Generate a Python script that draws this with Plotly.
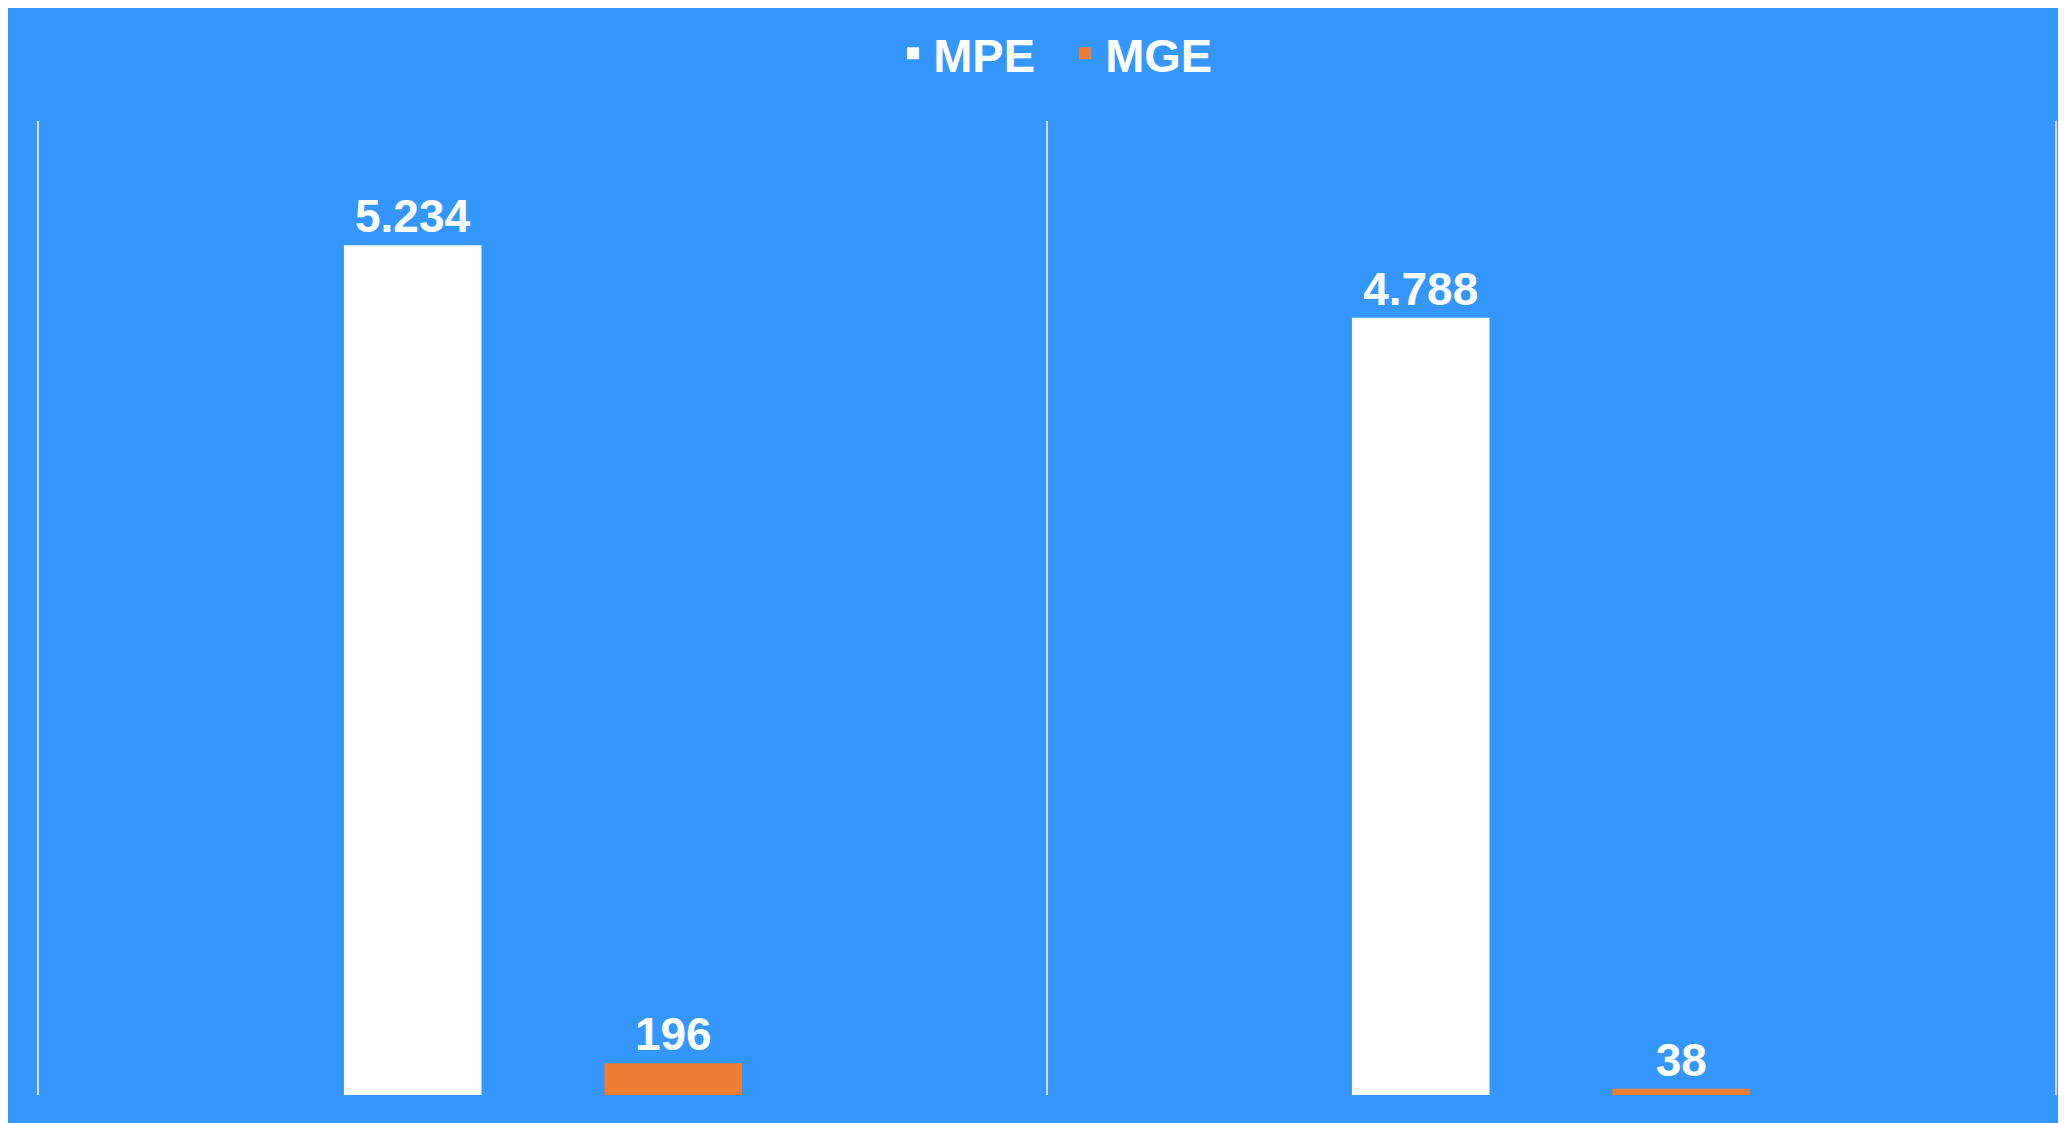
import plotly.graph_objects as go

# two groups, labels are not shown on the axis in the original
categories = ["A", "B"]
mpe_values = [5234, 4788]
mge_values = [196, 38]

BG = "#3397FF"
GRID = "#D9D9D9"
FONT = "Arial, Liberation Sans, sans-serif"

fig = go.Figure()
fig.add_trace(go.Bar(
    name="MPE",
    x=categories,
    y=mpe_values,
    marker=dict(color="#FFFFFF", line=dict(width=0)),
    texttemplate="%{y:,}",
    textposition="outside",
    textfont=dict(family=FONT, size=46, color="white", weight="bold"),
    cliponaxis=False,
))
fig.add_trace(go.Bar(
    name="MGE",
    x=categories,
    y=mge_values,
    marker=dict(color="#ED7D31", line=dict(width=0)),
    texttemplate="%{y:,}",
    textposition="outside",
    textfont=dict(family=FONT, size=46, color="white", weight="bold"),
    cliponaxis=False,
))

fig.update_layout(
    width=2050,
    height=1123,
    separators=",.",
    paper_bgcolor=BG,
    plot_bgcolor=BG,
    barmode="group",
    bargap=0.483,
    bargroupgap=0.472,
    margin=dict(l=31, r=1, t=113, b=36),
    showlegend=True,
    legend=dict(
        orientation="h",
        x=0.509, xanchor="center",
        y=1.069, yanchor="middle",
        entrywidth=127,
        entrywidthmode="pixels",
        font=dict(family=FONT, size=47, color="white", weight="bold"),
        bgcolor="rgba(0,0,0,0)",
    ),
    xaxis=dict(
        type="category",
        tickson="boundaries",
        showgrid=True,
        gridcolor=GRID,
        gridwidth=2,
        showticklabels=False,
        ticks="",
        showline=False,
        zeroline=False,
    ),
    # the outer boundary lines come from the y axis line, mirrored
    yaxis=dict(
        range=[0, 6000],
        showgrid=False,
        showticklabels=False,
        zeroline=False,
        showline=True,
        mirror=True,
        linecolor=GRID,
        linewidth=2,
        ticks="",
    ),
)

fig.write_html("out.html")
